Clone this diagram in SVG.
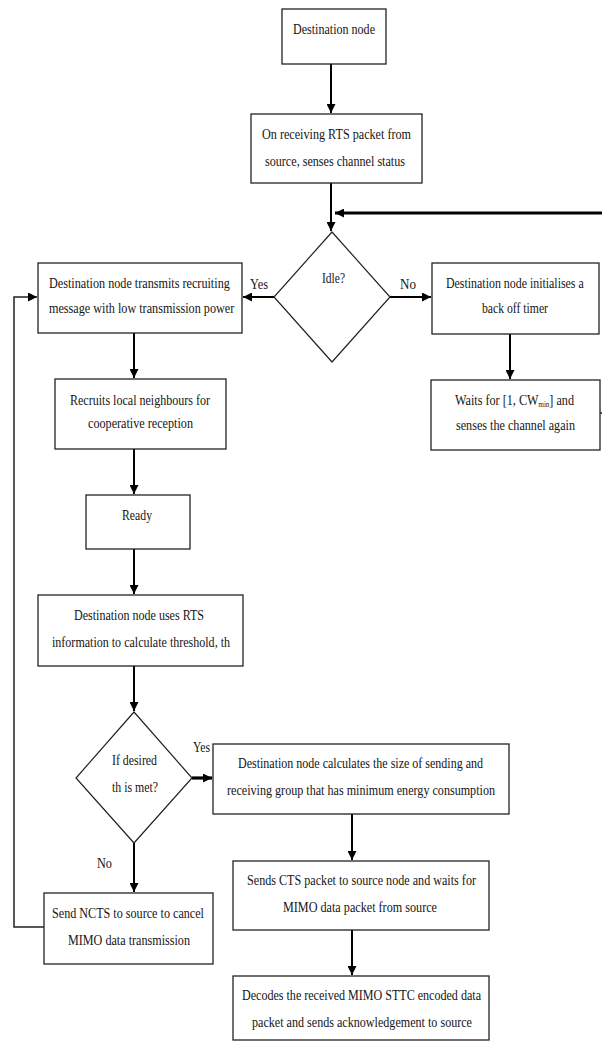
<svg xmlns="http://www.w3.org/2000/svg" width="602" height="1044" viewBox="0 0 602 1044">
<defs>
<marker id="ah" markerUnits="userSpaceOnUse" markerWidth="10" markerHeight="9" refX="9" refY="4.5" orient="auto">
<path d="M0,0 L9,4.5 L0,9 z" fill="#000"/>
</marker>
<style>
.box{fill:#fff;stroke:#222;stroke-width:1.3}
.dia{fill:#fff;stroke:#222;stroke-width:1.2}
.t{font-family:"Liberation Serif","Times New Roman",serif;font-size:14px;fill:#151515}
.c{fill:none;stroke:#000;stroke-width:2}
.thick{fill:none;stroke:#000;stroke-width:3.2}
.thin{fill:none;stroke:#222;stroke-width:1.5}
</style>
</defs>
<rect width="602" height="1044" fill="#fff"/>

<g id="connectors">
<line class="c" x1="331" y1="64" x2="331" y2="113" marker-end="url(#ah)"/>
<line class="c" x1="331" y1="183" x2="331" y2="231" marker-end="url(#ah)"/>
<line class="thick" x1="602" y1="213" x2="335" y2="213" marker-end="url(#ah)"/>
<line class="c" x1="274" y1="297" x2="243" y2="297" marker-end="url(#ah)"/>
<line class="c" x1="390" y1="297" x2="431" y2="297" marker-end="url(#ah)"/>
<line class="c" x1="510" y1="334" x2="510" y2="379" marker-end="url(#ah)"/>
<line class="thin" x1="600" y1="413" x2="602" y2="413"/>
<line class="c" x1="134" y1="333" x2="134" y2="378" marker-end="url(#ah)"/>
<line class="c" x1="134" y1="449" x2="134" y2="494" marker-end="url(#ah)"/>
<line class="c" x1="134" y1="549" x2="134" y2="594" marker-end="url(#ah)"/>
<line class="c" x1="134" y1="666" x2="134" y2="711" marker-end="url(#ah)"/>
<line class="thick" x1="192" y1="778" x2="212" y2="778" stroke-width="4" marker-end="url(#ah)"/>
<line class="c" x1="352" y1="814" x2="352" y2="860" marker-end="url(#ah)"/>
<line class="c" x1="352" y1="930" x2="352" y2="975" marker-end="url(#ah)"/>
<line class="c" x1="134" y1="843" x2="134" y2="892" marker-end="url(#ah)"/>
<polyline class="thin" points="44,927 14,927 14,297 37,297" marker-end="url(#ah)"/>
<text class="t" x="250" y="289" textLength="18" lengthAdjust="spacingAndGlyphs">Yes</text>
<text class="t" x="400" y="289" textLength="16" lengthAdjust="spacingAndGlyphs">No</text>
<text class="t" x="193" y="752" textLength="17" lengthAdjust="spacingAndGlyphs">Yes</text>
<text class="t" x="97" y="868" textLength="15" lengthAdjust="spacingAndGlyphs">No</text>
</g>

<g id="n1">
<rect class="box" x="282" y="9" width="104" height="55"/>
<text class="t" x="293" y="34" textLength="82" lengthAdjust="spacingAndGlyphs">Destination node</text>
</g>

<g id="n2">
<rect class="box" x="251" y="114" width="171" height="69"/>
<text class="t" x="262" y="139" textLength="149" lengthAdjust="spacingAndGlyphs">On receiving RTS packet from</text>
<text class="t" x="265" y="166" textLength="140" lengthAdjust="spacingAndGlyphs">source, senses channel status</text>
</g>

<g id="d1">
<polygon class="dia" points="332,232 390,297 332,362 274,297"/>
<text class="t" x="322" y="283" textLength="23" lengthAdjust="spacingAndGlyphs">Idle?</text>
</g>

<g id="n3">
<rect class="box" x="38" y="263" width="204" height="70"/>
<text class="t" transform="translate(49,288) scale(0.87,1)">Destination node transmits recruiting</text>
<text class="t" transform="translate(49,313) scale(0.87,1)">message with low  transmission power</text>
</g>

<g id="n4">
<rect class="box" x="432" y="263" width="167" height="71"/>
<text class="t" transform="translate(446,288) scale(0.85,1)">Destination node initialises a</text>
<text class="t" x="482" y="313" textLength="66" lengthAdjust="spacingAndGlyphs">back off timer</text>
</g>

<g id="n5">
<rect class="box" x="431" y="380" width="169" height="70"/>
<text class="t" transform="translate(455,405) scale(0.87,1)">Waits for [1, CW<tspan font-size="8" dy="2">min</tspan><tspan dy="-2">] and</tspan></text>
<text class="t" x="456" y="430" textLength="119" lengthAdjust="spacingAndGlyphs">senses the channel again</text>
</g>

<g id="n6">
<rect class="box" x="55" y="379" width="171" height="70"/>
<text class="t" x="70" y="405" textLength="140" lengthAdjust="spacingAndGlyphs">Recruits local neighbours for</text>
<text class="t" x="88" y="428" textLength="105" lengthAdjust="spacingAndGlyphs">cooperative reception</text>
</g>

<g id="n7">
<rect class="box" x="86" y="495" width="104" height="54"/>
<text class="t" x="122" y="520" textLength="30" lengthAdjust="spacingAndGlyphs">Ready</text>
</g>

<g id="n8">
<rect class="box" x="38" y="595" width="205" height="71"/>
<text class="t" x="74" y="620" textLength="130" lengthAdjust="spacingAndGlyphs">Destination node uses RTS</text>
<text class="t" x="52" y="647" textLength="178" lengthAdjust="spacingAndGlyphs">information to calculate threshold, th</text>
</g>

<g id="d2">
<polygon class="dia" points="134,712 192,778 134,843 76,778"/>
<text class="t" x="112" y="765" textLength="45" lengthAdjust="spacingAndGlyphs">If desired</text>
<text class="t" x="112" y="792" textLength="46" lengthAdjust="spacingAndGlyphs">th is met?</text>
</g>

<g id="n9">
<rect class="box" x="213" y="744" width="296" height="70"/>
<text class="t" x="238" y="768" textLength="245" lengthAdjust="spacingAndGlyphs">Destination node calculates the size of sending and</text>
<text class="t" x="227" y="795" textLength="268" lengthAdjust="spacingAndGlyphs">receiving group that has minimum energy consumption</text>
</g>

<g id="n10">
<rect class="box" x="233" y="861" width="256" height="69"/>
<text class="t" x="247" y="885" textLength="229" lengthAdjust="spacingAndGlyphs">Sends CTS packet to source node and waits for</text>
<text class="t" x="283" y="912" textLength="154" lengthAdjust="spacingAndGlyphs">MIMO data packet from source</text>
</g>

<g id="n11">
<rect class="box" x="233" y="976" width="256" height="64"/>
<text class="t" x="242" y="1000" textLength="239" lengthAdjust="spacingAndGlyphs">Decodes the received MIMO STTC encoded data</text>
<text class="t" x="252" y="1027" textLength="220" lengthAdjust="spacingAndGlyphs">packet and sends acknowledgement to source</text>
</g>

<g id="n12">
<rect class="box" x="44" y="893" width="169" height="71"/>
<text class="t" x="52" y="918" textLength="152" lengthAdjust="spacingAndGlyphs">Send NCTS  to source to cancel</text>
<text class="t" x="68" y="945" textLength="122" lengthAdjust="spacingAndGlyphs">MIMO data transmission</text>
</g>
</svg>
